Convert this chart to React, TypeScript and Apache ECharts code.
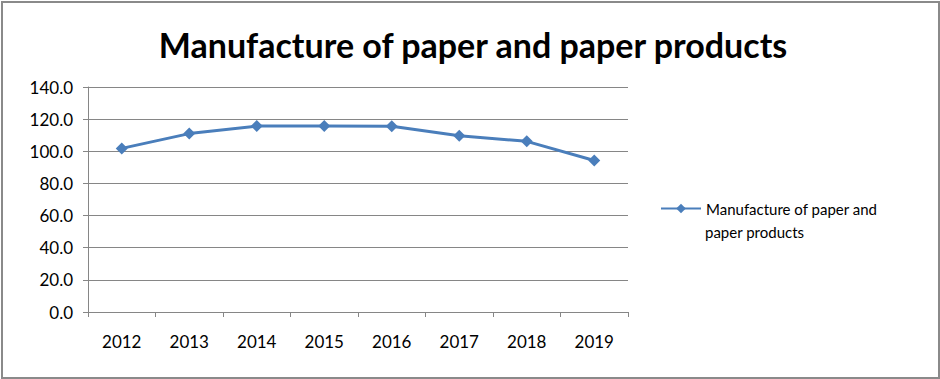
import React, { useEffect, useRef } from "react";
import * as echarts from "echarts";

const categories = ["2012", "2013", "2014", "2015", "2016", "2017", "2018", "2019"];
const seriesName = "Manufacture of paper and paper products";
const legendLine1 = "Manufacture of paper and";
const legendLine2 = "paper products";
const values = [101.8, 111.0, 115.7, 115.7, 115.6, 109.6, 106.2, 94.3];

export default function App() {
  const ref = useRef<HTMLDivElement>(null);
  useEffect(() => {
    const chart = echarts.init(ref.current!, null, { renderer: "svg" });
    const font = "Lato, 'Open Sans', sans-serif";
    chart.setOption({
      animation: false,
      backgroundColor: "#ffffff",
      title: {
        text: seriesName,
        left: 468,
        textAlign: "center",
        top: 22,
        textStyle: { fontFamily: font, fontSize: 34, fontWeight: "bold", color: "#000" },
      },
      graphic: [
        {
          type: "text",
          left: 705,
          top: 224,
          style: { text: legendLine2, fontFamily: font, fontSize: 15, fill: "#000" },
        },
      ],
      legend: {
        data: [seriesName],
        left: 660,
        top: 201,
        padding: 0,
        itemWidth: 40,
        itemHeight: 12,
        formatter: () => legendLine1,
        textStyle: { fontFamily: font, fontSize: 15, color: "#000" },
      },
      grid: { left: 88, right: 312, top: 87, bottom: 67 },
      xAxis: {
        type: "category",
        data: categories,
        boundaryGap: true,
        axisLine: { lineStyle: { color: "#868686" } },
        axisTick: { show: true, length: 5, lineStyle: { color: "#868686" } },
        axisLabel: { fontFamily: font, fontSize: 17, color: "#000", margin: 21 },
      },
      yAxis: {
        type: "value",
        min: 0,
        max: 140,
        interval: 20,
        axisLine: { show: true, lineStyle: { color: "#868686" } },
        axisTick: { show: true, length: 5, lineStyle: { color: "#868686" } },
        axisLabel: {
          fontFamily: font,
          fontSize: 17,
          color: "#000",
          margin: 15,
          formatter: (v: number) => v.toFixed(1),
        },
        splitLine: { lineStyle: { color: "#868686" } },
      },
      series: [
        {
          name: seriesName,
          type: "line",
          data: values,
          symbol: "diamond",
          symbolSize: 12,
          lineStyle: { color: "#4a7ebb", width: 3 },
          itemStyle: { color: "#4a7ebb" },
        },
      ],
    });
    return () => chart.dispose();
  }, []);
  return (
    <div style={{ position: "absolute", left: 0, top: 0, width: 940, height: 379 }}>
      <div ref={ref} style={{ position: "absolute", left: 0, top: 0, width: 940, height: 379 }} />
      <div
        style={{
          position: "absolute",
          left: 1,
          top: 1,
          width: 935,
          height: 374,
          border: "2px solid #8a8a8a",
          pointerEvents: "none",
        }}
      />
    </div>
  );
}
